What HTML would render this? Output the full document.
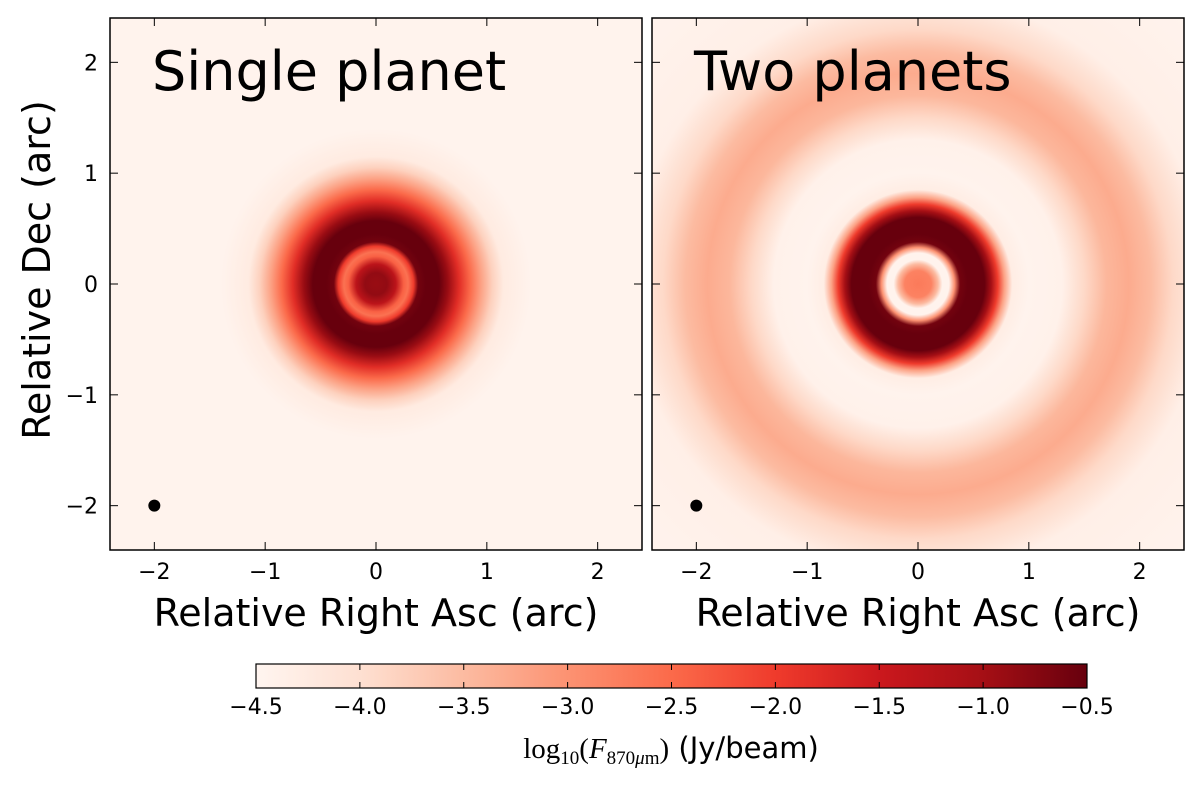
<!DOCTYPE html>
<html><head><meta charset="utf-8"><style>
body{margin:0;background:#fff;}
svg{display:block;font-family:"DejaVu Sans","Liberation Sans",sans-serif;}
</style></head><body>
<svg id="fig" width="1200" height="794" viewBox="0 0 1200 794">
<defs id="defs"></defs>
<g id="root"></g>
</svg>
<script>
// Radial profiles (radius in arcsec, log10 flux)
const leftRadius = [0,0.1,0.18,0.25,0.29,0.34,0.38,0.45,0.57,0.65,0.75,0.85,0.95,1.05,1.15,1.4,3.4];
const leftLogFlux = [-0.9,-0.85,-1.3,-2.4,-2.6,-2.0,-0.6,-0.5,-0.5,-0.9,-1.8,-2.5,-3.2,-3.8,-4.25,-4.45,-4.45];
const rightRadius = [0,0.12,0.18,0.22,0.28,0.33,0.38,0.45,0.6,0.66,0.72,0.78,0.85,1.0,1.3,1.5,1.7,1.9,2.1,2.3,2.6,3.4];
const rightLogFlux = [-2.7,-2.8,-3.5,-4.45,-4.45,-3.0,-0.6,-0.5,-0.5,-1.0,-2.0,-3.2,-4.3,-4.45,-4.4,-3.9,-3.45,-3.3,-3.5,-3.9,-4.35,-4.45];
const axisTicks = [-2,-1,0,1,2];
const axisTickLabels = ["\u22122","\u22121","0","1","2"];
const cbarTicks = [-4.5,-4.0,-3.5,-3.0,-2.5,-2.0,-1.5,-1.0,-0.5];
const cbarTickLabels = ["\u22124.5","\u22124.0","\u22123.5","\u22123.0","\u22122.5","\u22122.0","\u22121.5","\u22121.0","\u22120.5"];
const panelTitles = ["Single planet","Two planets"];
const beamPos = [-2,-2];

const reds = ["#fff5f0","#fee0d2","#fcbba1","#fc9272","#fb6a4a","#ef3b2c","#cb181d","#a50f15","#67000d"];
const vmin=-4.5, vmax=-0.5;
function hex(c){return [1,3,5].map(i=>parseInt(c.substr(i,2),16));}
function cmap(v){
  let t=Math.max(0,Math.min(1,(v-vmin)/(vmax-vmin)))*(reds.length-1);
  let i=Math.min(reds.length-2,Math.floor(t)),f=t-i;
  let a=hex(reds[i]),b=hex(reds[i+1]);
  return "rgb("+a.map((x,k)=>Math.round(x+(b[k]-x)*f)).join(",")+")";
}
const NS="http://www.w3.org/2000/svg";
function el(tag,attrs,parent){const e=document.createElementNS(NS,tag);for(const k in attrs)e.setAttribute(k,attrs[k]);parent.appendChild(e);return e;}
const rootG=document.getElementById('root'), defsEl=document.getElementById('defs');
const panels=[{x0:110,radius:leftRadius,flux:leftLogFlux},{x0:652,radius:rightRadius,flux:rightLogFlux}];
const topY=18,size=532,xmin=-2.4,xmax=2.4;
const ppu=size/(xmax-xmin);
panels.forEach((p,pi)=>{
  const sx=v=>p.x0+(v-xmin)*ppu, sy=v=>topY+(xmax-v)*ppu;
  const maxR=p.radius[p.radius.length-1];
  const g=el('radialGradient',{id:'g'+pi,gradientUnits:'userSpaceOnUse',cx:sx(0),cy:sy(0),r:maxR*ppu},defsEl);
  p.radius.forEach((r,i)=>{el('stop',{offset:r/maxR,'stop-color':cmap(p.flux[i])},g);});
  const grp=el('g',{},rootG);
  
  
  const img=el('rect',{x:p.x0,y:topY,width:size,height:size,fill:'url(#g'+pi+')'},grp);
  
  
  const beam=el('circle',{cx:sx(beamPos[0]),cy:sy(beamPos[1]),r:6,fill:'#000'},grp);
  
  
  const t=el('text',{x:p.x0+42,y:topY+72,'font-size':54},grp);t.textContent=panelTitles[pi];
  
  
  axisTicks.forEach((v,i)=>{
    const x=sx(v),y=sy(v);
    el('line',{x1:x,x2:x,y1:topY+size,y2:topY+size-8,stroke:'#000'},grp);
    el('line',{x1:x,x2:x,y1:topY,y2:topY+8,stroke:'#000'},grp);
    el('line',{x1:p.x0,x2:p.x0+8,y1:y,y2:y,stroke:'#000'},grp);
    el('line',{x1:p.x0+size,x2:p.x0+size-8,y1:y,y2:y,stroke:'#000'},grp);
    const xl=el('text',{x:x,y:topY+size+29,'font-size':22,'text-anchor':'middle'},grp);xl.textContent=axisTickLabels[i];
    
    
    if(pi===0){const yl=el('text',{x:p.x0-12,y:y+8,'font-size':22,'text-anchor':'end'},grp);yl.textContent=axisTickLabels[i];
      
      }
  });
  el('rect',{x:p.x0,y:topY,width:size,height:size,fill:'none',stroke:'#000','stroke-width':1.5},grp);
  const xt=el('text',{x:p.x0+size/2,y:626,'font-size':38,'text-anchor':'middle'},grp);xt.textContent='Relative Right Asc (arc)';
  
  
});
const yt=el('text',{x:0,y:0,'font-size':38,'text-anchor':'middle',transform:'translate(50,270) rotate(-90)'},rootG);yt.textContent='Relative Dec (arc)';


// colorbar
const cbx0=256,cbx1=1087,cby=664,cbh=24;
const lg=el('linearGradient',{id:'cb',x1:0,x2:1,y1:0,y2:0},defsEl);
for(let i=0;i<=40;i++){el('stop',{offset:i/40,'stop-color':cmap(vmin+(vmax-vmin)*i/40)},lg);}
const cb=el('g',{},rootG);


el('rect',{x:cbx0,y:cby,width:cbx1-cbx0,height:cbh,fill:'url(#cb)',stroke:'#000','stroke-width':1.2},cb);
const cbScale=v=>cbx0+(v-vmin)/(vmax-vmin)*(cbx1-cbx0);
cbarTicks.forEach((v,i)=>{
  el('line',{x1:cbScale(v),x2:cbScale(v),y1:cby+cbh,y2:cby+cbh-6,stroke:'#000'},cb);
  el('line',{x1:cbScale(v),x2:cbScale(v),y1:cby,y2:cby+6,stroke:'#000'},cb);
  const t=el('text',{x:cbScale(v),y:cby+cbh+26,'font-size':22,'text-anchor':'middle'},cb);t.textContent=cbarTickLabels[i];
  
  
});
const cl=el('text',{x:671,y:758,'font-size':29,'text-anchor':'middle'},cb);
cl.innerHTML='<tspan font-family="Liberation Serif,serif">log<tspan font-size="19" dy="6">10</tspan><tspan dy="-6">(</tspan><tspan font-style="italic">F</tspan><tspan font-size="19" dy="6">870</tspan><tspan font-size="19" font-style="italic">μ</tspan><tspan font-size="19">m</tspan><tspan dy="-6">)</tspan></tspan> (Jy/beam)';


</script>
</body></html>
